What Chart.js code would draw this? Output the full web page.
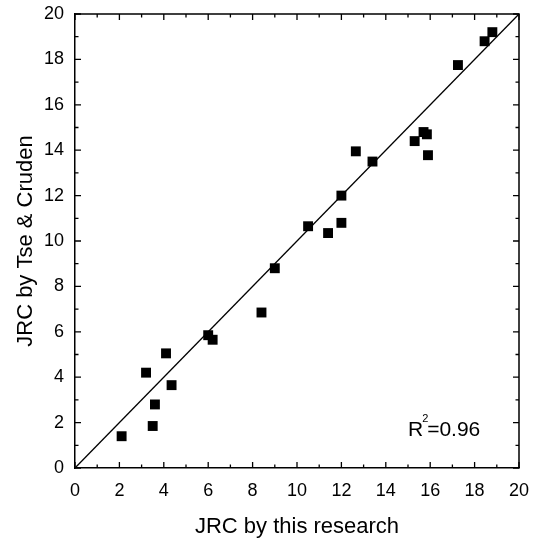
<!DOCTYPE html>
<html>
<head>
<meta charset="utf-8">
<script src="https://cdn.jsdelivr.net/npm/chart.js@4/dist/chart.umd.min.js"></script>
<style>
  html, body { margin: 0; padding: 0; background: #fff; }
  #wrap { width: 535px; height: 543px; }
</style>
</head>
<body>
<div id="wrap"><canvas id="chart"></canvas></div>
<script>
'use strict';

// JRC measured here (x) vs JRC from Tse & Cruden (y)
const jrcThisResearch = [2.1, 3.2, 3.6, 3.5, 4.35, 4.1, 6.0, 6.2, 8.4, 9.0, 10.5, 11.4, 12.0, 12.0, 12.65, 13.4, 15.3, 15.7, 15.85, 15.9, 17.25, 18.45, 18.8];
const jrcTseCruden    = [1.4, 4.2, 2.8, 1.85, 3.65, 5.05, 5.85, 5.65, 6.85, 8.8, 10.65, 10.35, 10.8, 12.0, 13.95, 13.5, 14.4, 14.8, 14.7, 13.78, 17.75, 18.8, 19.2];

// 1:1 line
const lineX = [0, 20];
const lineY = [0, 20];

const axisMin = 0;
const axisMax = 20;
const r2Label = '0.96';

const FONT = '"Liberation Sans", Arial, sans-serif';

var points = jrcThisResearch.map(function (x, i) { return {x: x, y: jrcTseCruden[i]}; });
var linePts = lineX.map(function (x, i) { return {x: x, y: lineY[i]}; });

// frame on top/right, inward ticks on all four sides, and the R^2 note
const framePlugin = {
  id: 'frame',
  afterDatasetsDraw: function (chart) {
    var ctx = chart.ctx;
    var xs = chart.scales.x, ys = chart.scales.y;
    var a = chart.chartArea;
    ctx.save();
    ctx.strokeStyle = '#000';
    ctx.lineWidth = 1.5;
    ctx.beginPath();
    ctx.moveTo(a.left, a.top);
    ctx.lineTo(a.right, a.top);
    ctx.lineTo(a.right, a.bottom);
    ctx.stroke();

    ctx.lineWidth = 1.3;
    ctx.beginPath();
    for (var v = axisMin; v <= axisMax; v++) {
      var len = (v % 2 === 0) ? 6 : 3.5;
      var px = xs.getPixelForValue(v);
      var py = ys.getPixelForValue(v);
      ctx.moveTo(px, a.bottom); ctx.lineTo(px, a.bottom - len);
      ctx.moveTo(px, a.top); ctx.lineTo(px, a.top + len);
      ctx.moveTo(a.left, py); ctx.lineTo(a.left + len, py);
      ctx.moveTo(a.right, py); ctx.lineTo(a.right - len, py);
    }
    ctx.stroke();

    // R^2 = 0.96
    var tx = xs.getPixelForValue(15.0);
    var ty = ys.getPixelForValue(1.4);
    ctx.fillStyle = '#000';
    ctx.textBaseline = 'alphabetic';
    ctx.textAlign = 'left';
    ctx.font = '21px ' + FONT;
    ctx.fillText('R', tx, ty);
    var rw = ctx.measureText('R').width;
    ctx.font = '11px ' + FONT;
    ctx.fillText('2', tx + rw - 1, ty - 14);
    ctx.font = '21px ' + FONT;
    ctx.fillText('=' + r2Label, tx + rw + 4, ty);
    ctx.restore();
  }
};

var ctx = document.getElementById('chart');
new Chart(ctx, {
  type: 'scatter',
  data: {
    datasets: [
      {
        label: 'data',
        data: points,
        pointStyle: 'rect',
        pointRadius: 7,
        backgroundColor: '#000',
        borderColor: '#000',
        borderWidth: 0,
        order: 1
      },
      {
        label: 'fit',
        data: linePts,
        showLine: true,
        pointRadius: 0,
        borderColor: '#000',
        borderWidth: 1.3,
        fill: false,
        order: 2
      }
    ]
  },
  options: {
    responsive: true,
    maintainAspectRatio: false,
    animation: false,
    layout: { padding: { top: 14, right: 16, left: 0, bottom: 0 } },
    plugins: {
      legend: { display: false },
      tooltip: { enabled: false }
    },
    scales: {
      x: {
        type: 'linear',
        min: axisMin,
        max: axisMax,
        grid: { display: false, drawTicks: false },
        border: { display: true, color: '#000', width: 1.5 },
        ticks: { stepSize: 2, color: '#000', padding: 12, font: { family: FONT, size: 18 } },
        title: { display: true, text: 'JRC by this research', color: '#000', font: { family: FONT, size: 22 }, padding: { top: 0, bottom: 3 } },
        afterFit: function (scale) {
          scale.height = 75;
          // let layout padding decide the edges, not the end labels
          scale.paddingLeft = 0;
          scale.paddingRight = 0;
        }
      },
      y: {
        type: 'linear',
        min: axisMin,
        max: axisMax,
        grid: { display: false, drawTicks: false },
        border: { display: true, color: '#000', width: 1.5 },
        ticks: { stepSize: 2, color: '#000', padding: 11, font: { family: FONT, size: 18 } },
        title: { display: true, text: 'JRC by Tse & Cruden', color: '#000', font: { family: FONT, size: 22 }, padding: { top: 13, bottom: 0 } },
        afterFit: function (scale) {
          scale.width = 75;
          scale.paddingTop = 0;
          scale.paddingBottom = 0;
        }
      }
    }
  },
  plugins: [framePlugin]
});
</script>
</body>
</html>
